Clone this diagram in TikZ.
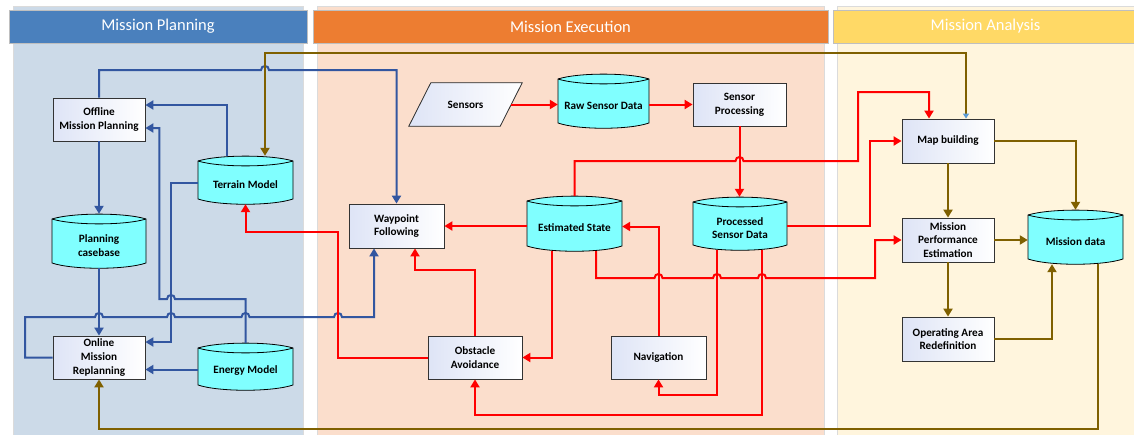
\documentclass[tikz,border=0pt]{standalone}
\usepackage{fontspec}
\setmainfont{Carlito}
\usetikzlibrary{arrows.meta,calc}
\definecolor{pbg}{RGB}{204,218,232}
\definecolor{ebg}{RGB}{251,222,204}
\definecolor{abg}{RGB}{255,245,221}
\definecolor{phd}{RGB}{74,128,189}
\definecolor{ehd}{RGB}{237,125,49}
\definecolor{ahd}{RGB}{255,217,102}
\definecolor{lnblue}{RGB}{50,86,160}
\definecolor{lnred}{RGB}{255,0,0}
\definecolor{lnbrown}{RGB}{127,96,0}
\definecolor{cyanfill}{RGB}{128,255,255}
\definecolor{boxlav}{RGB}{222,228,246}
\definecolor{tipblue}{RGB}{91,155,213}
\newcommand\mydrum[6]{%
  \pgfmathsetmacro\dxa{#2+0.22*(#3-#2)}%
  \pgfmathsetmacro\dxb{#3-0.22*(#3-#2)}%
  \pgfmathsetmacro\dyt{#4-6.5}%
  \pgfmathsetmacro\dyi{#4+6.5}%
  \pgfmathsetmacro\dyb{#5+7}%
  \pgfmathsetmacro\dcx{(#2+#3)/2}%
  \pgfmathsetmacro\dcy{(#4+#5)/2}%
  \pgfmathsetmacro\dw{#3-#2}%
  \pgfmathsetmacro\dh{#5-#4+10}%
  \filldraw[drumshape] (#2,#4) .. controls (\dxa,\dyt) and (\dxb,\dyt) .. (#3,#4) -- (#3,#5) .. controls (\dxb,\dyb) and (\dxa,\dyb) .. (#2,#5) -- cycle;
  \draw[drumedge] (#2,#4) .. controls (\dxa,\dyi) and (\dxb,\dyi) .. (#3,#4);
  \node[anchorbox, minimum width=\dw pt, minimum height=\dh pt] (#1) at (\dcx,\dcy) {};
  \node[lbl] (#1-t) at (\dcx,\dcy+4.5) {#6};
}
\begin{document}
\begin{tikzpicture}[x=1pt,y=-1pt,
  lane/.style={draw=black!14, line width=0.6pt},
  hdr/.style={draw=black!25, line width=0.5pt, inner sep=0pt, minimum height=33pt, text=white, font=\fontsize{16.5}{18}\selectfont},
  lbl/.style={font=\bfseries\fontsize{11.2}{13.6}\selectfont, align=center, inner sep=0pt},
  box/.style={draw=black!80, line width=0.8pt, left color=boxlav, right color=white, inner sep=0pt, font=\bfseries\fontsize{11.2}{13.6}\selectfont, align=center},
  drumshape/.style={draw=black, line width=0.8pt, fill=cyanfill},
  drumedge/.style={draw=black, line width=0.8pt},
  anchorbox/.style={inner sep=0pt, draw=none},
  tipa/.style={-{Triangle[length=8pt,width=9pt]}},
  bline/.style={draw=lnblue, line width=2pt, tipa},
  rline/.style={draw=lnred, line width=2pt, tipa},
  wline/.style={draw=lnbrown, line width=2pt, tipa},
]
\useasboundingbox (0,0) rectangle (1134,434);
% lanes
\filldraw[lane, fill=pbg] (13,6) rectangle (303,436);
\filldraw[lane, fill=ebg] (317,6) rectangle (824,436);
\filldraw[lane, fill=abg] (837,6) rectangle (1140,436);
\node[hdr, fill=phd, minimum width=298pt] (hp) at (158,26.5) {\raisebox{-1.5pt}{Mission Planning}};
\node[hdr, fill=ehd, minimum width=515pt] (he) at (570.5,26.5) {\raisebox{-1.5pt}{Mission Execution}};
\node[hdr, fill=ahd, minimum width=305pt] (ha) at (985.5,26.5) {\raisebox{-1.5pt}{Mission Analysis}};

% boxes
\node[box, minimum width=92pt, minimum height=43pt] (off) at (99,119.5) {Offline\\Mission Planning};
\node[box, minimum width=92pt, minimum height=43pt] (onl) at (99,357.5) {Online\\Mission\\Replanning};
\node[box, minimum width=95pt, minimum height=44pt] (wp) at (396.5,226) {Waypoint\\Following};
\node[box, minimum width=93pt, minimum height=43pt] (sp) at (739.5,104.5) {Sensor\\Processing};
\node[box, minimum width=94pt, minimum height=43pt] (oa) at (475,357.5) {Obstacle\\Avoidance};
\node[box, minimum width=95pt, minimum height=43pt] (nav) at (658.5,357.5) {Navigation};
\node[box, minimum width=92pt, minimum height=44pt] (mb) at (948,141) {Map building};
\node[box, minimum width=92pt, minimum height=44pt] (mpe) at (948,240) {Mission\\Performance\\Estimation};
\node[box, minimum width=92pt, minimum height=44pt] (oar) at (948,339) {Operating Area\\Redefinition};

% sensors parallelogram
\node[anchorbox, minimum width=91pt, minimum height=43pt] (sen) at (465.5,104.5) {};
\filldraw[draw=black!80, line width=0.8pt, left color=boxlav, right color=white]
  ([xshift=11pt]sen.north west) -- ([xshift=11pt]sen.north east) -- ([xshift=-11pt]sen.south east) -- ([xshift=-11pt]sen.south west) -- cycle;
\node[lbl] (sen-t) at (sen.center) {Sensors};

% drums
\mydrum{terr}{198}{293}{161}{199}{Terrain Model}
\mydrum{pcb}{52}{146}{219}{263}{Planning\\casebase}
\mydrum{en}{198}{293}{348}{385}{Energy Model}
\mydrum{raw}{558}{649}{79}{123}{Raw Sensor Data}
\mydrum{est}{527}{622}{201}{246}{Estimated State}
\mydrum{psd}{693}{787}{202}{245}{Processed\\Sensor Data}
\mydrum{md}{1028}{1123}{215}{259}{Mission data}

% blue connectors
\draw[bline] (off.north) |- (261,70) .. controls (261,64.7) and (269,64.7) .. (269,70) -| (wp.north);
\draw[bline] ([xshift=-18.5pt]terr.north) |- ([yshift=14.5pt]off.east);
\draw[bline] (en.north) |- (175,299) .. controls (175,293.7) and (167,293.7) .. (167,299) -| ([yshift=-8.5pt,xshift=14pt]off.east) -- ([yshift=-8.5pt]off.east);
\draw[bline] ([yshift=-3pt]terr.west) -| ([yshift=15.5pt,xshift=26pt]onl.east) -- ([yshift=15.5pt]onl.east);
\draw[bline] (onl.west) -| (25,317) -- (95,317) .. controls (95,311.7) and (103,311.7) .. (103,317)
  -- (167,317) .. controls (167,311.7) and (175,311.7) .. (175,317)
  -- (241.5,317) .. controls (241.5,311.7) and (249.5,311.7) .. (249.5,317)
  -- (334,317) .. controls (334,311.7) and (342,311.7) .. (342,317) -| ([xshift=-22.5pt]wp.south);
\draw[bline] (off.south) -- (pcb.north);
\draw[bline] (pcb.south) -- (onl.north);
\draw[bline] ([yshift=-3pt]en.west) -- ([yshift=-3pt]en.west -| onl.east);

% brown connectors
\draw[draw=lnbrown, line width=2pt, {Triangle[length=5pt,width=6pt,color=tipblue]}-{Triangle[length=8pt,width=9pt]}]
  ([xshift=18pt]mb.north) |- (265,53) -- ([xshift=19.5pt]terr.north);
\draw[wline] (mb.east) -| (md.north);
\draw[wline] (mb.south) -- (mpe.north);
\draw[wline] (mpe.east) -- (mpe.east -| md.west);
\draw[wline] (mpe.south) -- (oar.north);
\draw[wline] (oar.east) -| ([xshift=-23.5pt]md.south);
\draw[wline] ([xshift=22.5pt]md.south) |- ([yshift=-50pt]onl.south) -- (onl.south);

% red connectors
\draw[rline] (sen.east) -- (sen.east -| raw.west);
\draw[rline] (raw.east |- sp.west) -- (sp.west);
\draw[rline] (sp.south) -- (sp.south |- psd.north);
\draw[rline] (est.north) |- (735.5,161) .. controls (735.5,155.7) and (743.5,155.7) .. (743.5,161) -| (858,92) -| ([xshift=-19pt]mb.north);
\draw[rline] ([yshift=-2.5pt]psd.east) -| (870,141) -- (mb.west);
\draw[rline] ([xshift=21.5pt]est.south) |- (654.5,278) .. controls (654.5,272.7) and (662.5,272.7) .. (662.5,278)
  -- (713,278) .. controls (713,272.7) and (721,272.7) .. (721,278)
  -- (758,278) .. controls (758,272.7) and (766,272.7) .. (766,278) -| (875,240) -- (mpe.west);
\draw[rline] (est.west |- wp.east) -- (wp.east);
\draw[rline] (nav.north) |- ([yshift=-3pt]est.east);
\draw[rline] ([xshift=-23pt]psd.south) |- ([yshift=-16pt]nav.south) -- (nav.south);
\draw[rline] ([xshift=22pt]psd.south) |- ([yshift=-36pt]oa.south) -- (oa.south);
\draw[rline] ([xshift=-23pt]est.south) |- (oa.east);
\draw[rline] (oa.north) |- ([xshift=18.5pt,yshift=-22pt]wp.south) -- ([xshift=18.5pt]wp.south);
\draw[rline] (oa.west) -| (338,232) -| (terr.south);
\end{tikzpicture}
\end{document}
